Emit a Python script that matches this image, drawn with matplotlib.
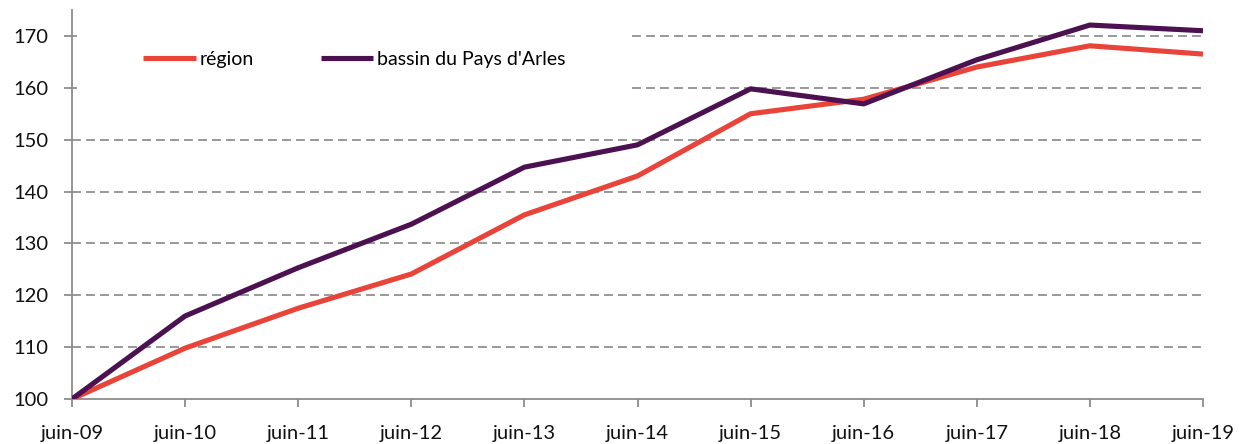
import matplotlib
matplotlib.use("Agg")
import matplotlib.pyplot as plt
from matplotlib.patches import Rectangle

categories = ["juin-09", "juin-10", "juin-11", "juin-12", "juin-13", "juin-14",
              "juin-15", "juin-16", "juin-17", "juin-18", "juin-19"]
region = [100, 109.8, 117.5, 124.1, 135.5, 143.0, 155.0, 157.8, 164.0, 168.1, 166.5]
bassin = [100, 116.0, 125.3, 133.7, 144.7, 149.0, 159.8, 156.9, 165.4, 172.1, 171.0]
yticks = [100, 110, 120, 130, 140, 150, 160, 170]

plt.rcParams['font.family'] = ['Lato', 'DejaVu Sans']

fig = plt.figure(figsize=(12.53, 4.44), dpi=100)
ax = fig.add_axes([72/1253, 1-399/444, (1203-72)/1253, (399-10)/444])

x = list(range(len(categories)))
ax.plot(x, region, color="#E8443A", lw=3.7, label="région", zorder=3, solid_capstyle="butt")
ax.plot(x, bassin, color="#4B1151", lw=3.7, label="bassin du Pays d'Arles", zorder=3, solid_capstyle="butt")

ax.set_xlim(0, len(categories)-1)
ax.set_ylim(100, 175)
ax.set_xticks(x)
ax.set_xticklabels(categories)
ax.set_yticks(yticks)

for v in yticks[1:]:
    ax.axhline(v, color="#999999", lw=1.4, ls=(0, (4.6, 2.6)), zorder=1)

# white legend background hiding gridlines
ax.add_patch(Rectangle((0.004, (152-100)/75), (628-72)/1131 - 0.004, (174.5-152)/75,
                       transform=ax.transAxes, facecolor="white", edgecolor="none", zorder=1.5))

for s in ["top", "right"]:
    ax.spines[s].set_visible(False)
for s in ["left", "bottom"]:
    ax.spines[s].set_color("#8c8c8c")
    ax.spines[s].set_linewidth(1.3)
ax.tick_params(axis="both", colors="#8c8c8c", width=1.3, length=6, labelsize=14.5, labelcolor="#111111")
ax.tick_params(axis="x", pad=13)
ax.tick_params(axis="y", pad=11)

leg = ax.legend(loc="center left", bbox_to_anchor=((143-72)/1131, 1-(59-10)/389), ncol=2, frameon=False,
                fontsize=14, handlelength=2.7, handletextpad=0.2, columnspacing=3.45, borderpad=0,
                borderaxespad=0)

fig.savefig("out.png", dpi=100)
